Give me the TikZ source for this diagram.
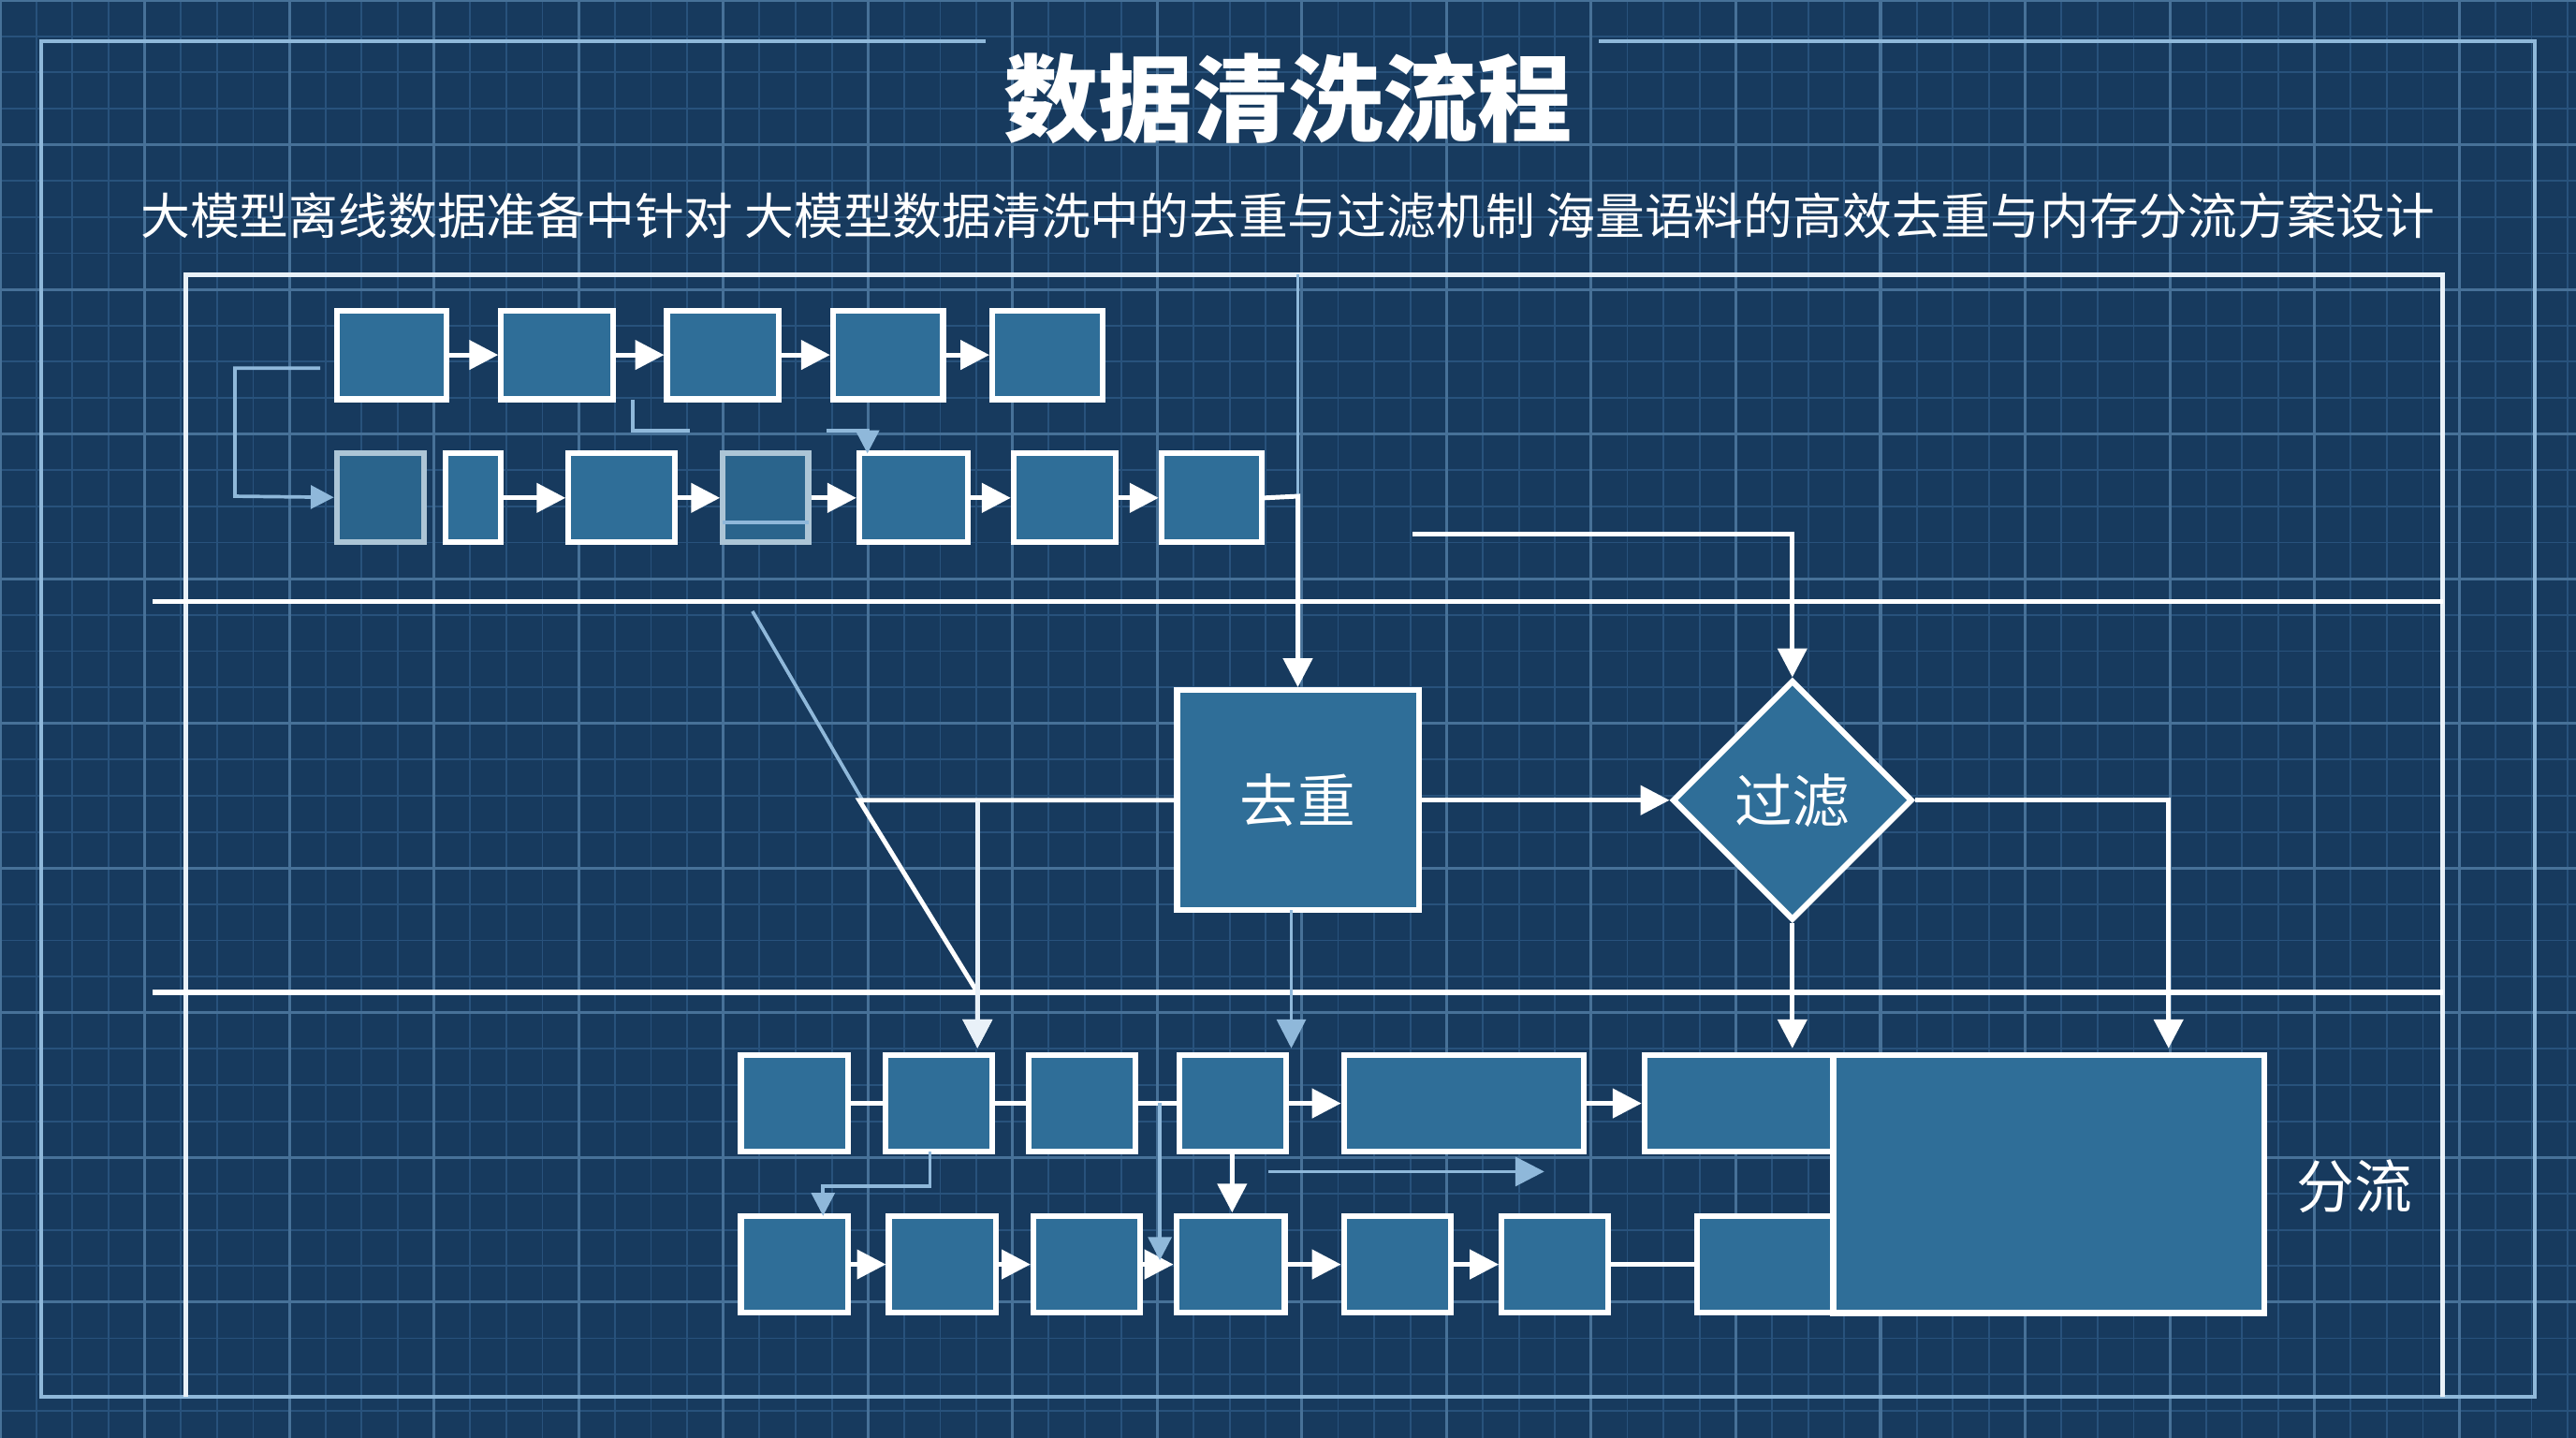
\documentclass[tikz,border=0pt]{standalone}
\usepackage{fontspec}
\setmainfont{Noto Sans CJK SC}
\usetikzlibrary{shapes.geometric,arrows.meta}
\definecolor{bgblue}{HTML}{173A5E}
\definecolor{gridblue}{HTML}{28527C}
\definecolor{boxblue}{HTML}{2F6E98}
\definecolor{lineblue}{HTML}{8FB8DA}
\tikzset{
  blk/.style={draw=white,line width=1pt,fill=boxblue,inner sep=0pt},
  fblk/.style={blk,draw=white!60!boxblue,fill=boxblue!80!bgblue},
  flow/.style={white,line width=0.8pt,-{Triangle[length=5pt,width=5pt]}},
  thin/.style={lineblue,line width=0.6pt},
  lbl/.style={text=white,font=\fontsize{10pt}{10pt}\selectfont},
}
\begin{document}
\begin{tikzpicture}[x=0.01cm,y=-0.01cm]
	\fill[bgblue] (0,0) rectangle (1568,875);
	\useasboundingbox (0,0) rectangle (1568,875);
	\draw[gridblue,line width=0.3pt,step=0.22cm] (0,0) grid (1568,875);
	\draw[gridblue!70!lineblue,line width=0.5pt,step=0.88cm] (0,0) grid (1568,875);
	% frames
	\draw[thin] (600,25) -- (25,25) -- (25,850) -- (1543,850) -- (1543,25) -- (973,25);
	\draw[white!80!lineblue,line width=0.8pt] (113,850) -- (113,167) -- (1487,167) -- (1487,850);
	\draw[white,line width=0.9pt] (93,366) -- (1487,366);
	\draw[white,line width=0.9pt] (93,604) -- (1487,604);
	% texts
	\node[text=white,font=\fontsize{16.4pt}{16pt}\selectfont\bfseries] (title) at (784,60) {数据清洗流程};
	\node[text=white,font=\fontsize{8.55pt}{9pt}\selectfont] (sub) at (784,131) {大模型离线数据准备中针对 大模型数据清洗中的去重与过滤机制 海量语料的高效去重与内存分流方案设计};
	% top rows
	\foreach \n/\a/\b in {t1/205/272,t2/305/373,t3/406/474,t4/507/574,t5/604/671}
		\node[blk,minimum width={(\b-\a)*0.01cm},minimum height=0.54cm] (\n) at ({(\a+\b)/2},216) {};
	\foreach \u/\v in {t1/t2,t2/t3,t3/t4,t4/t5} \draw[flow] (\u) -- (\v);
	\foreach \n/\a/\b/\s in {m1/205/258/fblk,m2/271/305/blk,m3/346/411/blk,m4/440/492/fblk,m5/523/589/blk,m6/617/679/blk,m7/707/768/blk}
		\node[\s,minimum width={(\b-\a)*0.01cm},minimum height=0.54cm] (\n) at ({(\a+\b)/2},303) {};
	\foreach \u/\v in {m2/m3,m3/m4,m4/m5,m5/m6,m6/m7} \draw[flow] (\u) -- (\v);
	\draw[thin,-{Triangle[length=4pt,width=4pt]}] (195,224) -- (143,224) -- (143,302) -- (m1);
	\draw[thin] (385,243) -- (385,262) -- (420,262);
	\draw[thin,-{Triangle[length=4pt,width=4pt]}] (503,262) -- (528,262) -- (528,276);
	\draw[thin] (440,318) -- (492,318);
	% middle
	\node[blk,lbl,minimum width=1.47cm,minimum height=1.34cm] (dedup) at (790,487) {去重};
	\node[blk,lbl,diamond,minimum width=1.46cm,minimum height=1.46cm] (filt) at (1091,487) {过滤};
	\draw[thin] (790,167) -- (790,302);
	\draw[flow] (m7.east) -- (790,302) -- (dedup.north);
	\draw[flow] (860,325) -- (1091,325) -- (filt.north);
	\draw[flow] (dedup) -- (filt);
	\draw[thin] (458,372) -- (525,487);
	% bottom rows
	\foreach \n/\a/\b in {b1/451/516,b2/539/604,b3/626/691,b4/718/783,b5/818/964,b6/1001/1116}
		\node[blk,minimum width={(\b-\a)*0.01cm},minimum height=0.59cm] (\n) at ({(\a+\b)/2},671.5) {};
	\foreach \n/\a/\b in {c1/451/516,c2/541/606,c3/629/694,c4/716/782,c5/818/883,c6/914/979,c7/1033/1116}
		\node[blk,minimum width={(\b-\a)*0.01cm},minimum height=0.59cm] (\n) at ({(\a+\b)/2},769.5) {};
	\node[blk,minimum width=2.62cm,minimum height=1.57cm] (split) at (1247,720.5) {};
	\node[lbl] (splitlbl) at (1433,722) {分流};
	\draw[white,line width=0.9pt] (b1) -- (b2) (b2) -- (b3) (b3) -- (b4) (c6) -- (c7);
	\foreach \u/\v in {b4/b5,b5/b6,c1/c2,c2/c3,c3/c4,c4/c5,c5/c6} \draw[flow] (\u) -- (\v);
	\draw[flow] (dedup.west) -- (523,487) -- (595,604) -- (595,638);
	\draw[white!80!lineblue,line width=0.8pt,-{Triangle[length=5pt,width=5pt]}] (595,487) -- (595,638);
	\draw[thin,-{Triangle[length=5pt,width=5pt]}] (786,554) -- (786,638);
	\draw[flow] (filt.south) -- (1091,638);
	\draw[flow] (filt.east) -- (1320,487) -- (1320,638);
	\draw[flow] (750,701) -- (750,738);
	\draw[thin,-{Triangle[length=5pt,width=5pt]}] (772,713) -- (940,713);
	\draw[thin,-{Triangle[length=4pt,width=4pt]}] (566,701) -- (566,722) -- (501,722) -- (501,740);
	\draw[thin,-{Triangle[length=4pt,width=4pt]}] (706,671) -- (706,767);
\end{tikzpicture}
\end{document}
